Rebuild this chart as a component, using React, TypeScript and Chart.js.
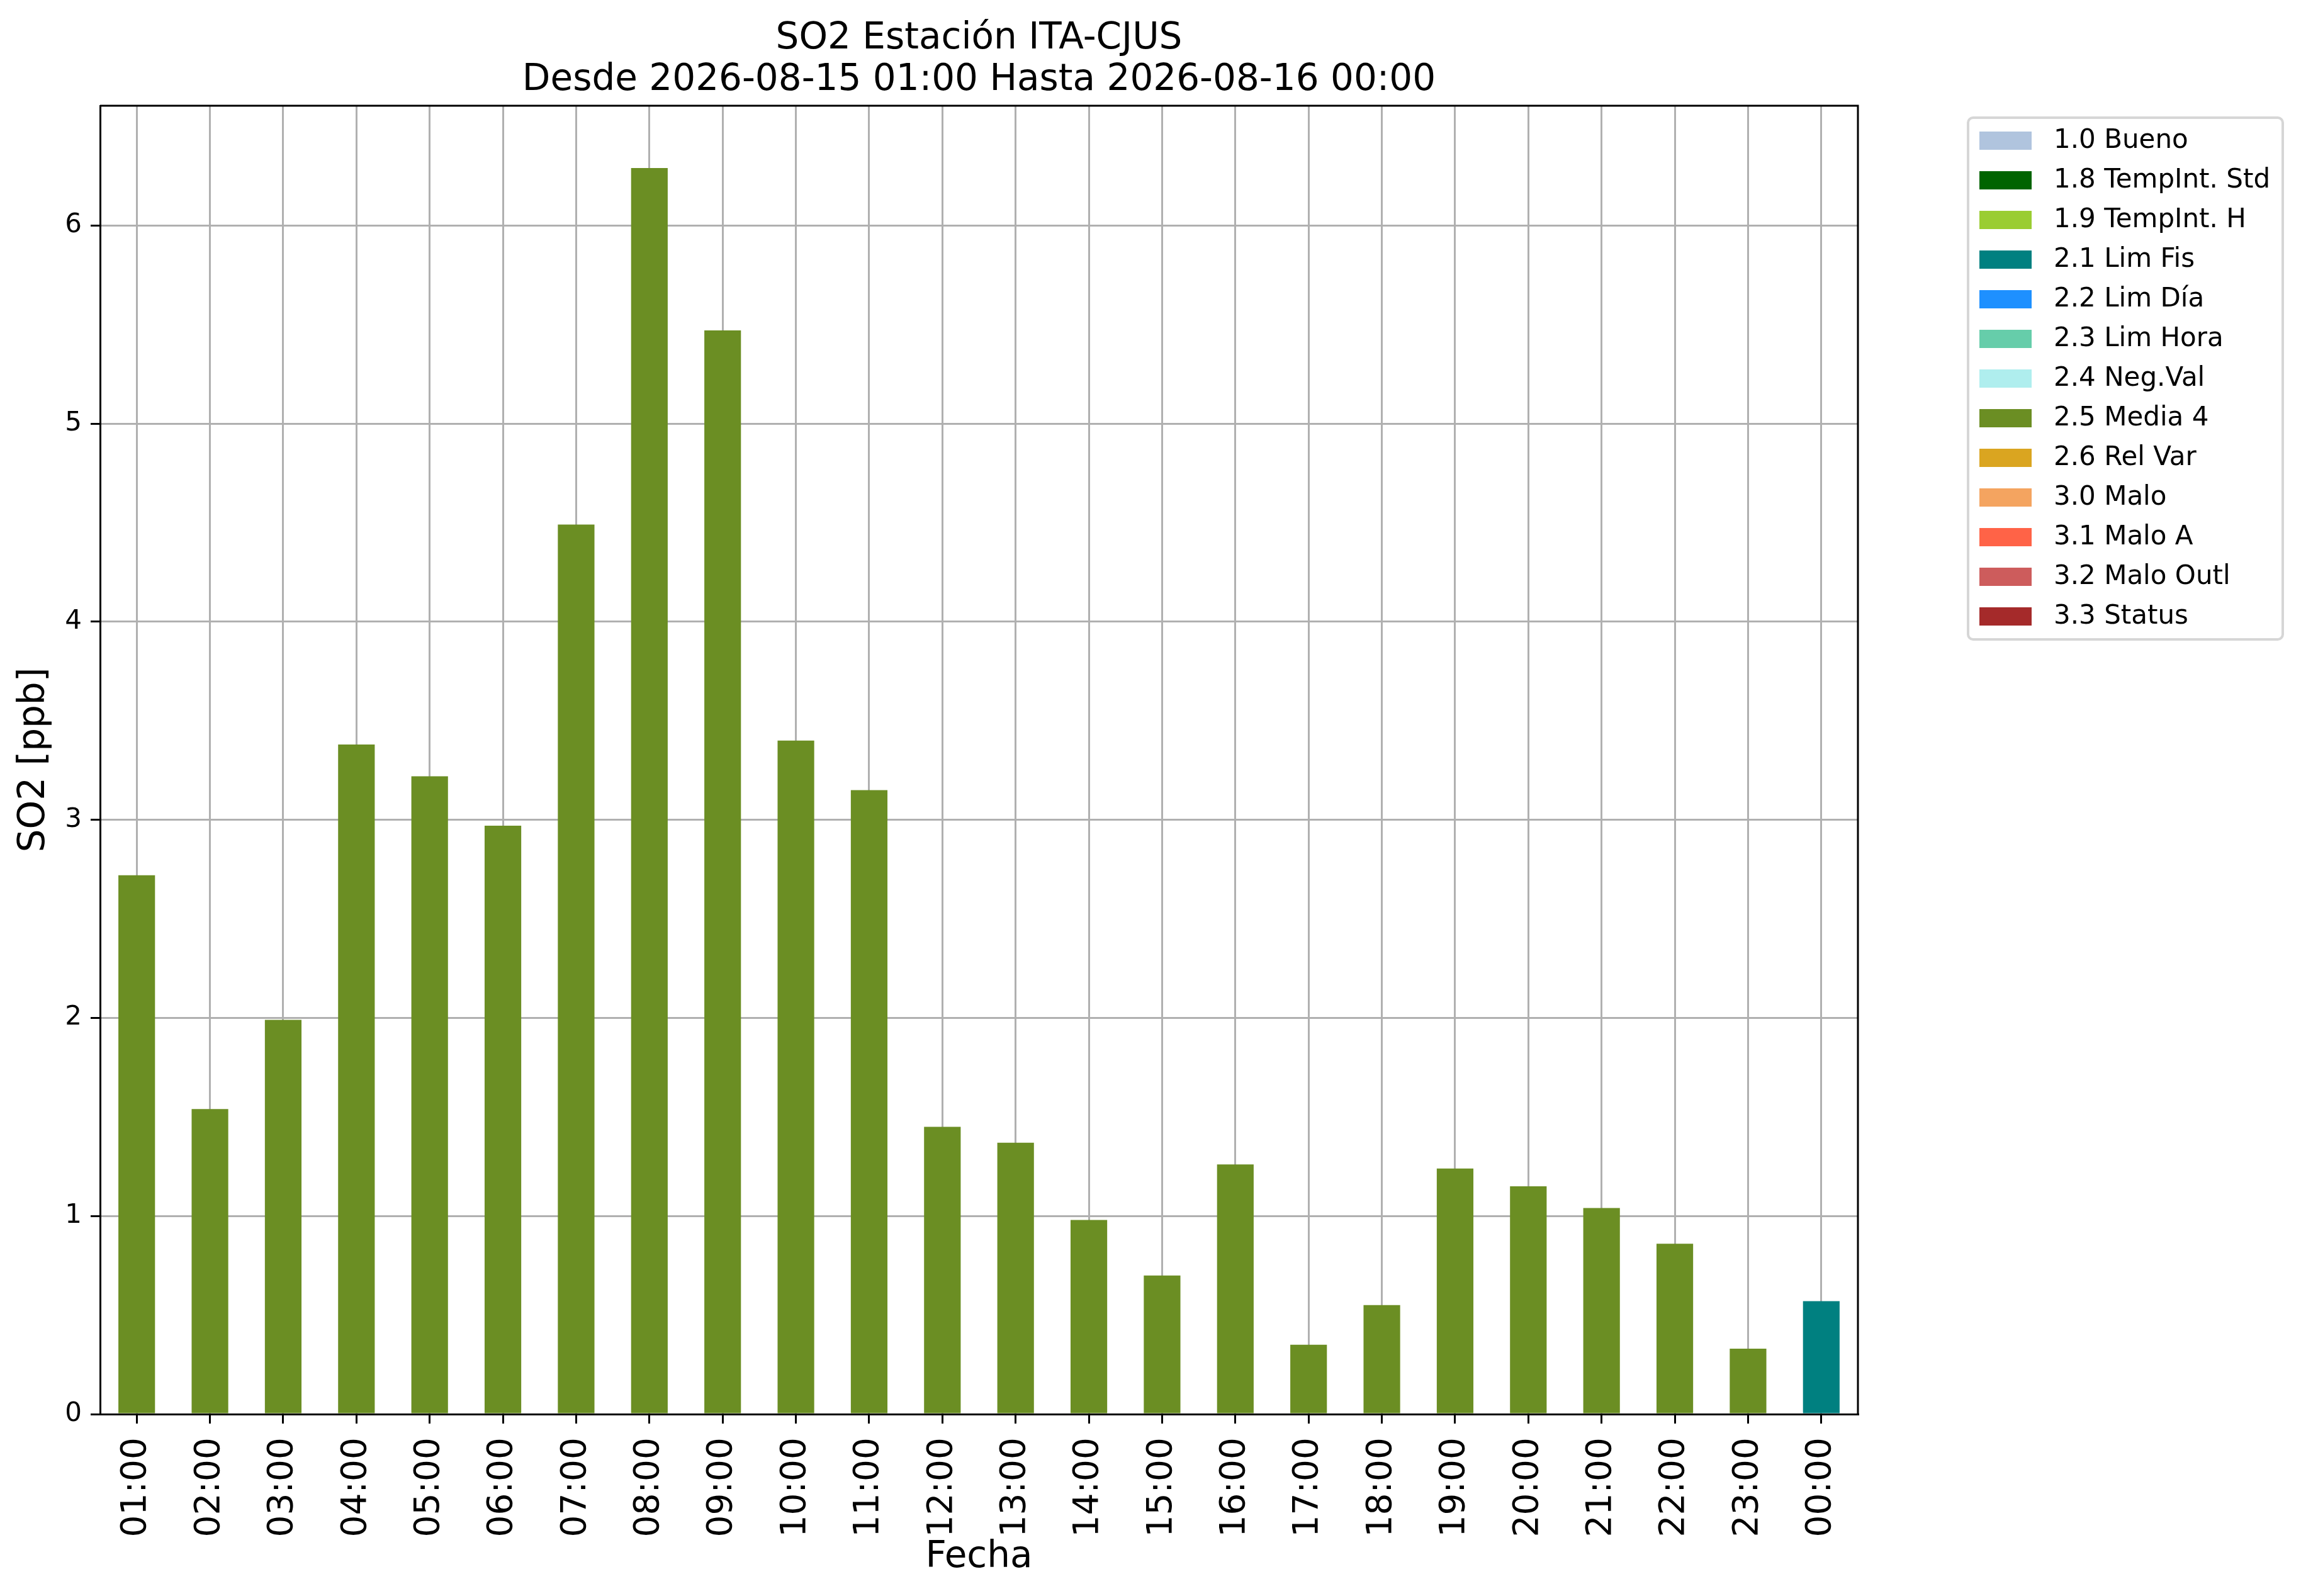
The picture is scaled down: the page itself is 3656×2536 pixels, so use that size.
import { useEffect, useRef } from "react";
import { Chart, registerables } from "chart.js";

Chart.register(...registerables);

const FONT = '"DejaVu Sans", sans-serif';

// horas del periodo
const hours = [
  "01:00", "02:00", "03:00", "04:00", "05:00", "06:00", "07:00", "08:00",
  "09:00", "10:00", "11:00", "12:00", "13:00", "14:00", "15:00", "16:00",
  "17:00", "18:00", "19:00", "20:00", "21:00", "22:00", "23:00", "00:00",
];

// SO2 [ppb] por hora
const so2 = [
  2.72, 1.54, 1.99, 3.38, 3.22, 2.97, 4.49, 6.29,
  5.47, 3.40, 3.15, 1.45, 1.37, 0.98, 0.70, 1.26,
  0.35, 0.55, 1.24, 1.15, 1.04, 0.86, 0.33, 0.57,
];

// bandera de validacion de cada hora
const hourFlags = [
  "2.5 Media 4", "2.5 Media 4", "2.5 Media 4", "2.5 Media 4", "2.5 Media 4", "2.5 Media 4",
  "2.5 Media 4", "2.5 Media 4", "2.5 Media 4", "2.5 Media 4", "2.5 Media 4", "2.5 Media 4",
  "2.5 Media 4", "2.5 Media 4", "2.5 Media 4", "2.5 Media 4", "2.5 Media 4", "2.5 Media 4",
  "2.5 Media 4", "2.5 Media 4", "2.5 Media 4", "2.5 Media 4", "2.5 Media 4", "2.1 Lim Fis",
];

const flagLabels = [
  "1.0 Bueno", "1.8 TempInt. Std", "1.9 TempInt. H", "2.1 Lim Fis", "2.2 Lim Día",
  "2.3 Lim Hora", "2.4 Neg.Val", "2.5 Media 4", "2.6 Rel Var", "3.0 Malo",
  "3.1 Malo A", "3.2 Malo Outl", "3.3 Status",
];

const flagColors = [
  "#b0c4de", "#006400", "#9acd32", "#008080", "#1e90ff",
  "#66cdaa", "#afeeee", "#6b8e23", "#daa520", "#f4a460",
  "#ff6347", "#cd5c5c", "#a52a2a",
];

const yTicks = [0, 1, 2, 3, 4, 5, 6];

const titleLines = [
  "SO2 Estación ITA-CJUS",
  "Desde 2026-08-15 01:00 Hasta 2026-08-16 00:00",
];

// titulo centrado sobre el area de datos
const titlePlugin = {
  id: "mplTitle",
  afterDraw(chart: Chart) {
    const { ctx, chartArea } = chart;
    const cx = (chartArea.left + chartArea.right) / 2;
    ctx.save();
    ctx.fillStyle = "#000";
    ctx.font = `58px ${FONT}`;
    ctx.textAlign = "center";
    ctx.textBaseline = "alphabetic";
    ctx.fillText(titleLines[0], cx, 77);
    ctx.fillText(titleLines[1], cx, 143);
    ctx.restore();
  },
};

// marco superior y derecho del eje
const framePlugin = {
  id: "frame",
  afterDraw(chart: Chart) {
    const { ctx, chartArea } = chart;
    ctx.save();
    ctx.strokeStyle = "#000";
    ctx.lineWidth = 3;
    ctx.beginPath();
    ctx.moveTo(chartArea.left, chartArea.top);
    ctx.lineTo(chartArea.right, chartArea.top);
    ctx.lineTo(chartArea.right, chartArea.bottom);
    ctx.stroke();
    ctx.restore();
  },
};

// leyenda fuera del grafico, con caja redondeada
const legendPlugin = {
  id: "boxLegend",
  afterDraw(chart: Chart) {
    const { ctx } = chart;
    const x0 = 3127;
    const y0 = 187;
    const w = 500;
    const h = 829;
    ctx.save();
    ctx.fillStyle = "rgba(255,255,255,0.8)";
    ctx.strokeStyle = "#d6d6d6";
    ctx.lineWidth = 4;
    ctx.beginPath();
    ctx.roundRect(x0, y0, w, h, 8);
    ctx.fill();
    ctx.stroke();
    ctx.font = `42px ${FONT}`;
    ctx.textAlign = "left";
    ctx.textBaseline = "middle";
    chart.data.datasets.forEach((ds, i) => {
      const top = 209 + i * 63;
      ctx.fillStyle = ds.backgroundColor as string;
      ctx.fillRect(3145, top, 83, 29);
      ctx.fillStyle = "#000";
      ctx.fillText(ds.label as string, 3263, top + 15);
    });
    ctx.restore();
  },
};

export default function App() {
  const chartRef = useRef<HTMLCanvasElement>(null);

  useEffect(() => {
    if (!chartRef.current) return;

    const datasets = flagLabels.map((label, k) => ({
      label,
      data: so2.map((v, i) => (hourFlags[i] === label ? v : null)),
      backgroundColor: flagColors[k],
      borderWidth: 0,
      categoryPercentage: 1,
      barPercentage: 0.5,
    }));

    const yMax = Math.max(...so2) * 1.05;

    const chart = new Chart(chartRef.current, {
      type: "bar",
      data: { labels: hours, datasets },
      options: {
        animation: false,
        responsive: true,
        maintainAspectRatio: false,
        devicePixelRatio: 1,
        layout: { padding: { left: 0, top: 168, right: 704, bottom: 0 } },
        plugins: {
          legend: { display: false },
          tooltip: { enabled: false },
          title: { display: false },
        },
        scales: {
          x: {
            stacked: true,
            offset: true,
            z: 1,
            afterFit: (s: any) => {
              s.height = 289;
            },
            grid: {
              offset: false,
              color: "#b0b0b0",
              lineWidth: 3,
              tickColor: "#000",
              tickWidth: 3,
              tickLength: 15,
            },
            border: { color: "#000", width: 3 },
            ticks: {
              autoSkip: false,
              minRotation: 90,
              maxRotation: 90,
              color: "#000",
              padding: 22,
              font: { family: FONT, size: 55 },
            },
            title: {
              display: true,
              text: "Fecha",
              color: "#000",
              font: { family: FONT, size: 58 },
              padding: { top: 0, bottom: 26 },
            },
          },
          y: {
            stacked: true,
            min: 0,
            max: yMax,
            z: 1,
            afterBuildTicks: (s: any) => {
              s.ticks = yTicks.map((v) => ({ value: v }));
            },
            afterFit: (s: any) => {
              s.width = 159;
            },
            grid: {
              color: "#b0b0b0",
              lineWidth: 3,
              tickColor: "#000",
              tickWidth: 3,
              tickLength: 15,
            },
            border: { color: "#000", width: 3 },
            ticks: {
              color: "#000",
              padding: 14,
              font: { family: FONT, size: 42 },
            },
            title: {
              display: true,
              text: "SO2 [ppb]",
              color: "#000",
              font: { family: FONT, size: 58 },
              padding: { top: 20, bottom: 0 },
            },
          },
        },
      },
      plugins: [titlePlugin, framePlugin, legendPlugin],
    });

    return () => {
      chart.destroy();
    };
  }, []);

  return (
    <div
      style={{
        position: "fixed",
        left: 0,
        top: 0,
        width: 3656,
        height: 2536,
        background: "#fff",
      }}
    >
      <canvas ref={chartRef}></canvas>
    </div>
  );
}
